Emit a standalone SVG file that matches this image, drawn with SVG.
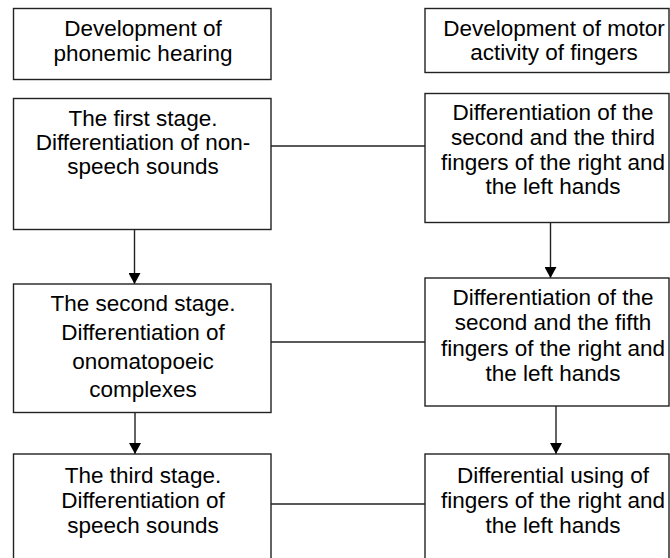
<svg xmlns="http://www.w3.org/2000/svg" width="670" height="558" viewBox="0 0 670 558">
<style>
rect.box{fill:#fff;stroke:#222;stroke-width:1.4}
text{font-family:"Liberation Sans",Arial,sans-serif;font-size:22.5px;fill:#000;text-anchor:middle}
.conn line{stroke:#222;stroke-width:1.4}
</style>
<defs>
<marker id="arr" viewBox="0 0 11 12" refX="11" refY="6" markerWidth="11" markerHeight="12" markerUnits="userSpaceOnUse" orient="auto">
<path d="M0,0 L11,6 L0,12 Z" fill="#000"/>
</marker>
</defs>
<rect width="670" height="558" fill="#fff"/>
<g id="connectors" class="conn">
<line x1="271" y1="146" x2="425" y2="146"/>
<line x1="271" y1="342" x2="425" y2="342"/>
<line x1="271" y1="504" x2="425" y2="504"/>
<line x1="134.5" y1="229.5" x2="134.5" y2="284" marker-end="url(#arr)"/>
<line x1="135" y1="413" x2="135" y2="454" marker-end="url(#arr)"/>
<line x1="550.5" y1="223" x2="550.5" y2="278" marker-end="url(#arr)"/>
<line x1="556" y1="406" x2="556" y2="454" marker-end="url(#arr)"/>
</g>
<g id="l1"><rect class="box" x="13.5" y="8.5" width="257.5" height="71"/>
<text x="143" y="36">Development of</text><text x="143" y="60.5">phonemic hearing</text></g>
<g id="l2"><rect class="box" x="13.5" y="98.5" width="257.5" height="131"/>
<text x="143" y="126">The first stage.</text><text x="143" y="150">Differentiation of non-</text><text x="143" y="174">speech sounds</text></g>
<g id="l3"><rect class="box" x="13.5" y="284" width="257.5" height="128.5"/>
<text x="143" y="311">The second stage.</text><text x="143" y="340">Differentiation of</text><text x="143" y="368.5">onomatopoeic</text><text x="143" y="397">complexes</text></g>
<g id="l4"><rect class="box" x="13.5" y="454" width="257.5" height="120"/>
<text x="143" y="482.5">The third stage.</text><text x="143" y="507.5">Differentiation of</text><text x="143" y="532.5">speech sounds</text></g>
<g id="r1"><rect class="box" x="425" y="8.5" width="244" height="64"/>
<text x="554" y="35.5">Development of motor</text><text x="554" y="60">activity of fingers</text></g>
<g id="r2"><rect class="box" x="425" y="93.5" width="244" height="129"/>
<text x="553" y="120">Differentiation of the</text><text x="553" y="144.5">second and the third</text><text x="553" y="169.5">fingers of the right and</text><text x="553" y="194">the left hands</text></g>
<g id="r3"><rect class="box" x="425" y="278" width="244" height="128"/>
<text x="553" y="305">Differentiation of the</text><text x="553" y="330">second and the fifth</text><text x="553" y="355.5">fingers of the right and</text><text x="553" y="381">the left hands</text></g>
<g id="r4"><rect class="box" x="425" y="454" width="244" height="120"/>
<text x="553" y="482.5">Differential using of</text><text x="553" y="508">fingers of the right and</text><text x="553" y="533">the left hands</text></g>
</svg>
